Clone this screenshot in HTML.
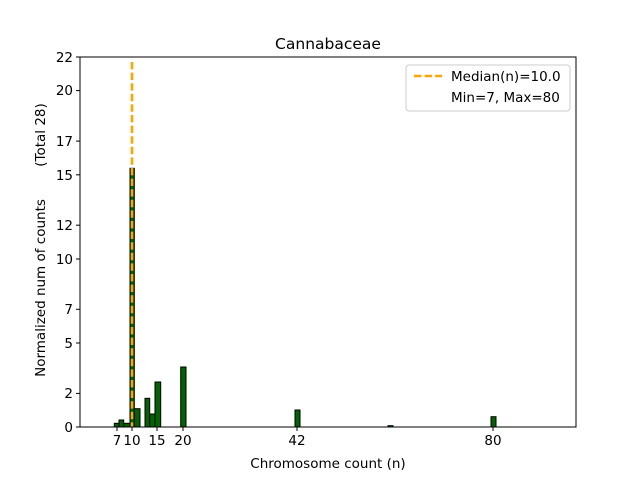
<!DOCTYPE html><html><head><style>body{margin:0;background:#fff}svg{display:block}</style></head><body>
<svg width="640" height="480" xmlns="http://www.w3.org/2000/svg" font-family="'DejaVu Sans','Liberation Sans',sans-serif">
<rect width="640" height="480" fill="#fff"/>
<g fill="#006400" stroke="#000" stroke-width="1">
<rect x="114.3" y="423.3" width="4.7" height="3.7"/>
<rect x="119" y="420" width="4.7" height="7"/>
<rect x="123.7" y="423.3" width="6.3" height="3.7"/>
<rect x="130" y="168.3" width="4.3" height="258.7"/>
<rect x="134.3" y="408.7" width="5.7" height="18.3"/>
<rect x="145" y="398.3" width="4.7" height="28.7"/>
<rect x="149.7" y="414" width="5.3" height="13"/>
<rect x="155" y="382" width="5.7" height="45"/>
<rect x="180.7" y="367" width="5.3" height="60"/>
<rect x="295" y="410" width="5" height="17"/>
<rect x="388" y="425.7" width="5" height="1.3"/>
<rect x="491" y="416.7" width="5" height="10.3"/>
</g>
<line x1="132" y1="62" x2="132" y2="427" stroke="#FFA500" stroke-width="2.6" stroke-dasharray="7.4,3.2"/>
<rect x="80" y="57" width="496" height="370" fill="none" stroke="#000" stroke-width="1"/>
<g stroke="#000" stroke-width="1">
<line x1="117" y1="427" x2="117" y2="431"/><line x1="132" y1="427" x2="132" y2="431"/><line x1="157" y1="427" x2="157" y2="431"/><line x1="183" y1="427" x2="183" y2="431"/><line x1="297" y1="427" x2="297" y2="431"/><line x1="493" y1="427" x2="493" y2="431"/>
<line x1="76" y1="427" x2="80" y2="427"/><line x1="76" y1="393.4" x2="80" y2="393.4"/><line x1="76" y1="343" x2="80" y2="343"/><line x1="76" y1="309.3" x2="80" y2="309.3"/><line x1="76" y1="259" x2="80" y2="259"/><line x1="76" y1="225.2" x2="80" y2="225.2"/><line x1="76" y1="174.8" x2="80" y2="174.8"/><line x1="76" y1="141.1" x2="80" y2="141.1"/><line x1="76" y1="90.6" x2="80" y2="90.6"/><line x1="76" y1="57" x2="80" y2="57"/>
</g>
<g font-size="13.5" text-anchor="middle" fill="#000">
<text x="117" y="445">7</text><text x="132" y="445">10</text><text x="157" y="445">15</text><text x="183" y="445">20</text><text x="297" y="445">42</text><text x="493" y="445">80</text>
</g>
<g font-size="13.5" text-anchor="end" fill="#000">
<text x="73" y="432">0</text><text x="73" y="398">2</text><text x="73" y="348">5</text><text x="73" y="314">7</text><text x="73" y="264">10</text><text x="73" y="230">12</text><text x="73" y="180">15</text><text x="73" y="146">17</text><text x="73" y="95">20</text><text x="73" y="62">22</text>
</g>
<text x="328" y="468" font-size="13.5" text-anchor="middle">Chromosome count (n)</text>
<text x="328" y="49" font-size="15.5" text-anchor="middle">Cannabaceae</text>
<text transform="translate(45,288) rotate(-90)" font-size="13.5" text-anchor="middle">Normalized num of counts</text>
<text transform="translate(45,135) rotate(-90)" font-size="13.5" text-anchor="middle">(Total 28)</text>
<rect x="406" y="65" width="164" height="46" rx="3" fill="#fff" stroke="#ccc"/>
<line x1="414" y1="76" x2="442" y2="76" stroke="#FFA500" stroke-width="2.6" stroke-dasharray="7.4,3.2"/>
<text x="451" y="81" font-size="13.5">Median(n)=10.0</text>
<text x="451" y="102" font-size="13.5">Min=7, Max=80</text>
</svg></body></html>
